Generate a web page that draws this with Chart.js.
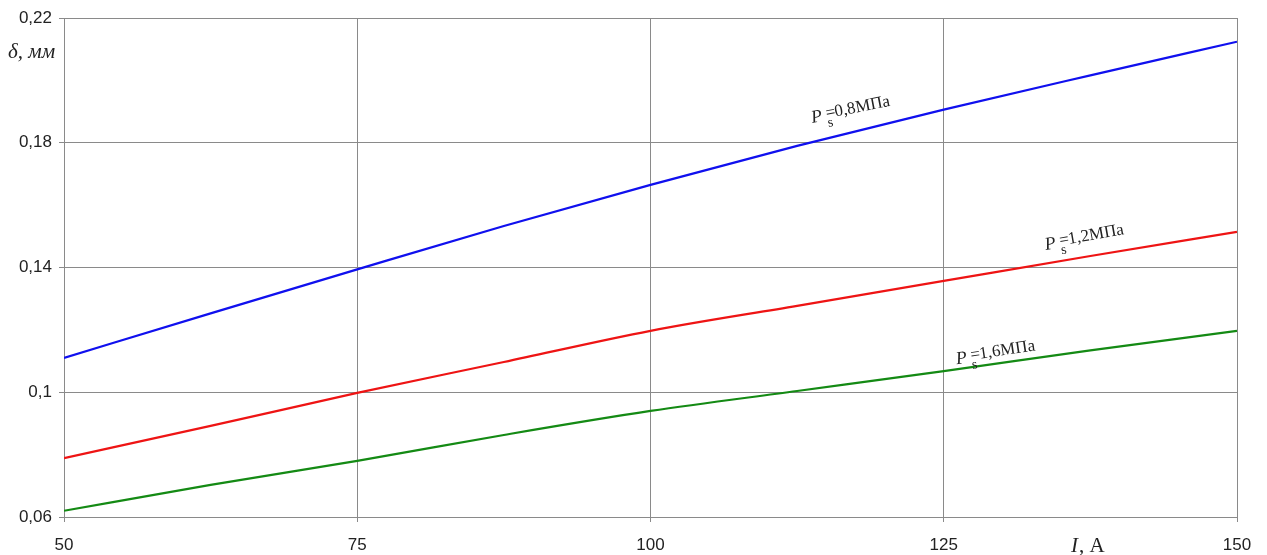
<!DOCTYPE html>
<html>
<head>
<meta charset="utf-8">
<style>
  html, body { margin: 0; padding: 0; background: #ffffff; }
  #wrap { width: 1267px; height: 555px; position: relative; }
</style>
<script src="https://cdn.jsdelivr.net/npm/chart.js@4.4.1/dist/chart.umd.min.js"></script>
</head>
<body>
<div id="wrap"><canvas id="c" width="1267" height="555"></canvas></div>
<script>
// Current I, A
const currents = [50, 62.5, 75, 87.5, 100, 112.5, 125, 137.5, 150];
// Gap δ, mm for each supply pressure
const delta08 = [0.111, 0.1253, 0.1394, 0.1533, 0.1665, 0.1790, 0.1906, 0.2016, 0.2124];
const delta12 = [0.0789, 0.0892, 0.0998, 0.1097, 0.1197, 0.1277, 0.1357, 0.1437, 0.1514];
const delta16 = [0.062, 0.0703, 0.078, 0.0863, 0.094, 0.1004, 0.1068, 0.1134, 0.1197];
// Axis ticks
const xTicks = [50, 75, 100, 125, 150];
const yTicks = [0.06, 0.10, 0.14, 0.18, 0.22];
// Curve captions: value of P_s, anchor (I, δ) and tilt in degrees
const captionText = ['0,8МПа', '1,2МПа', '1,6МПа'];
const captionI = [113.8, 133.7, 126.1];
const captionD = [0.1863, 0.1456, 0.1090];
const captionTilt = [-11, -10, -8.5];

const toPts = (ys) => currents.map((x, i) => ({ x: x, y: ys[i] }));
const fmt = (v) => Number(v.toFixed(2)).toString().replace('.', ',');

const GRID = '#8a8a8a';
const TICKFONT = { family: 'Liberation Sans, Arial, sans-serif', size: 17 };
const SERIF = '"Liberation Serif", "Times New Roman", serif';

const decorations = {
  id: 'decorations',
  afterDraw(chart) {
    const ctx = chart.ctx;
    const xs = chart.scales.x, ys = chart.scales.y;
    ctx.save();
    ctx.fillStyle = '#222';
    ctx.textBaseline = 'alphabetic';
    ctx.textAlign = 'left';
    // y axis title
    ctx.font = 'italic 21px ' + SERIF;
    ctx.fillText('δ, мм', 8, 58);
    // x axis title
    ctx.font = 'italic 21px ' + SERIF;
    ctx.fillText('I', 1071, 552);
    const wI = ctx.measureText('I').width;
    ctx.font = '21px ' + SERIF;
    ctx.fillText(', A', 1071 + wI + 1, 552);
    // captions along the curves
    for (let i = 0; i < captionText.length; i++) {
      const px = xs.getPixelForValue(captionI[i]);
      const py = ys.getPixelForValue(captionD[i]);
      ctx.save();
      ctx.translate(px, py);
      ctx.rotate(captionTilt[i] * Math.PI / 180);
      ctx.fillStyle = '#222';
      ctx.font = 'italic 18px ' + SERIF;
      ctx.fillText('P', 0, 0);
      ctx.font = '14px ' + SERIF;
      ctx.fillText('s', 15, 7);
      ctx.font = '17px ' + SERIF;
      ctx.fillText('=', 15, -2);
      ctx.fillText(captionText[i], 24, -2);
      ctx.restore();
    }
    ctx.restore();
  }
};

new Chart(document.getElementById('c'), {
  type: 'line',
  data: {
    datasets: [
      { label: 'Ps=0,8МПа', data: toPts(delta08), borderColor: '#1010ee', borderWidth: 2.2, pointRadius: 0, cubicInterpolationMode: 'monotone' },
      { label: 'Ps=1,2МПа', data: toPts(delta12), borderColor: '#ee1414', borderWidth: 2.2, pointRadius: 0, cubicInterpolationMode: 'monotone' },
      { label: 'Ps=1,6МПа', data: toPts(delta16), borderColor: '#148a14', borderWidth: 2.2, pointRadius: 0, cubicInterpolationMode: 'monotone' }
    ]
  },
  options: {
    responsive: false,
    animation: false,
    devicePixelRatio: 1,
    layout: { padding: { left: 0, right: 30, top: 18, bottom: 0 } },
    plugins: { legend: { display: false }, tooltip: { enabled: false } },
    scales: {
      x: {
        type: 'linear',
        min: 50, max: 150,
        afterBuildTicks: (s) => { s.ticks = xTicks.map(v => ({ value: v })); },
        afterFit: (s) => { s.height = 38; },
        ticks: { color: '#222', font: TICKFONT, padding: 13, maxRotation: 0, callback: (v) => String(v) },
        grid: { color: GRID, lineWidth: 1, tickLength: 5 },
        border: { color: GRID, width: 1 }
      },
      y: {
        type: 'linear',
        min: 0.06, max: 0.22,
        afterBuildTicks: (s) => { s.ticks = yTicks.map(v => ({ value: v })); },
        afterFit: (s) => { s.width = 64; },
        ticks: { color: '#222', font: TICKFONT, padding: 7, callback: (v) => fmt(v) },
        grid: { color: GRID, lineWidth: 1, tickLength: 5 },
        border: { color: GRID, width: 1 }
      }
    }
  },
  plugins: [decorations]
});
</script>
</body>
</html>
